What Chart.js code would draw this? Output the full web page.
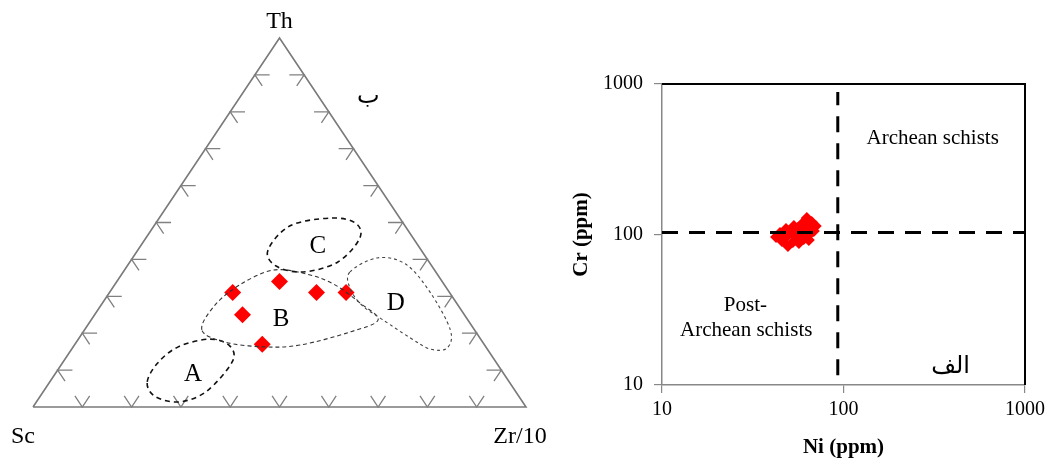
<!DOCTYPE html>
<html><head><meta charset="utf-8">
<script src="https://cdn.jsdelivr.net/npm/chart.js@4.4.0/dist/chart.umd.min.js"></script>
<style>
html,body{margin:0;padding:0;background:#fff;}
#wrap{position:relative;width:1050px;height:459px;background:#fff;}
#tern{position:absolute;left:0;top:0;}
#log{position:absolute;left:540px;top:0;}
</style></head><body>
<div id="wrap">
<canvas id="tern" width="560" height="459"></canvas>
<canvas id="log" width="510" height="459"></canvas>
</div>
<script>
// ===== Ternary Th - Sc - Zr/10 : sample compositions (%) =====
const thValues = [31, 34, 31, 31, 25, 17];
const scValues = [44, 33, 27, 21, 45, 45];
const zrValues = [25, 33, 42, 48, 30, 38];
const ternTicks = [10, 20, 30, 40, 50, 60, 70, 80, 90];
// vertices as [Th, Zr/10] (Sc = remainder)
const vertexNames = ['Sc', 'Zr/10', 'Th'];
const vertexComp = [[0, 0], [0, 100], [100, 0]];
// field outlines as [Th, Zr/10] % (Sc = remainder)
const fieldA = [[6.5,19.9],[2.7,23.6],[1.4,29.1],[4.3,33.1],[12.2,34.3],[16.5,31.7],[18.4,26.7],[16.3,21.3],[11.7,19.3]];
const fieldB = [[20.9,23.8],[27.6,23.1],[33.1,25.4],[37.1,30.1],[36.0,37.6],[33.1,44.7],[28.2,52.2],[23.6,58.2],[20.3,54.1],[16.8,45.8],[16.3,38.5],[17.6,30.1]];
const fieldC = [[42.5,26.4],[38.2,30.2],[36.6,36.5],[39.3,42.2],[45.8,43.4],[49.9,40.4],[51.2,34.8],[49.1,27.6]];
const fieldD = [[36.6,46.0],[40.4,49.6],[38.8,56.1],[31.2,64.9],[20.9,74.2],[16.0,76.0],[15.7,72.7],[18.7,67.2],[23.6,59.2],[27.6,52.9],[32.2,48.2]];
const fieldNames = ['A', 'B', 'C', 'D'];
const fieldLabelComp = [[8.9, 28.0], [23.6, 38.5], [43.4, 36.1], [28.2, 59.5]];
const ternPanelLabel = 'ب';
const ternPanelLabelComp = [84, 26];

// ===== Cr vs Ni (ppm) =====
const niValues = [42.5, 44.7, 45.8, 48.8, 49.4, 52.6, 48.2, 52.0, 54.7, 56.8, 56.1, 58.9, 60.4, 59.7, 62.8, 63.6, 65.2, 66.8, 70.3, 68.6, 64.4, 53.3];
const crValues = [96.2, 102.3, 90.5, 97.7, 83.9, 89.2, 108.8, 103.9, 96.2, 87.8, 110.5, 102.3, 93.3, 119.2, 128.7, 110.5, 100.8, 121.1, 113.9, 105.5, 91.9, 113.9];
const niBoundary = 93;
const crBoundary = 103;
const niLineCrRange = [11.6, 885];
const logTicks = [10, 100, 1000];
const logTexts = [
  {text: 'Archean schists', ni: 310, cr: 437},
  {text: 'Post-', ni: 28.8, cr: 33.5},
  {text: 'Archean schists', ni: 29.1, cr: 23.2}
];
const logPanelLabel = {text: 'الف', ni: 389, cr: 13.2};

const SERIF = '"Liberation Serif", "Times New Roman", serif';

// ---------- ternary ----------
function tx(th, zr) { return zr + th / 2; }
function tpx(chart, th, zr) {
  return [chart.scales.x.getPixelForValue(tx(th, zr)), chart.scales.y.getPixelForValue(th)];
}
function closedSpline(ctx, pts) {
  const n = pts.length;
  ctx.moveTo(pts[0][0], pts[0][1]);
  for (let i = 0; i < n; i++) {
    const p0 = pts[(i - 1 + n) % n], p1 = pts[i], p2 = pts[(i + 1) % n], p3 = pts[(i + 2) % n];
    ctx.bezierCurveTo(p1[0] + (p2[0] - p0[0]) / 6, p1[1] + (p2[1] - p0[1]) / 6,
                      p2[0] - (p3[0] - p1[0]) / 6, p2[1] - (p3[1] - p1[1]) / 6,
                      p2[0], p2[1]);
  }
  ctx.closePath();
}
const ternDecor = {
  id: 'ternDecor',
  afterDatasetsDraw(chart) {
    const ctx = chart.ctx;
    ctx.save();
    // tick stubs
    ctx.strokeStyle = '#808080';
    ctx.lineWidth = 1.3;
    const s = 3;
    ctx.beginPath();
    ternTicks.forEach(k => {
      let p, a, b;
      p = tpx(chart, 0, k); a = tpx(chart, s, k - s); b = tpx(chart, s, k);
      ctx.moveTo(a[0], a[1]); ctx.lineTo(p[0], p[1]); ctx.lineTo(b[0], b[1]);
      p = tpx(chart, k, 0); a = tpx(chart, k, s); b = tpx(chart, k - s, s);
      ctx.moveTo(a[0], a[1]); ctx.lineTo(p[0], p[1]); ctx.lineTo(b[0], b[1]);
      p = tpx(chart, k, 100 - k); a = tpx(chart, k, 100 - k - s); b = tpx(chart, k - s, 100 - k);
      ctx.moveTo(a[0], a[1]); ctx.lineTo(p[0], p[1]); ctx.lineTo(b[0], b[1]);
    });
    ctx.stroke();
    // fields
    const fields = [fieldA, fieldB, fieldC, fieldD];
    const styles = [
      {c: '#111', w: 1.6, d: [5, 4]},
      {c: '#333', w: 1.1, d: [4, 3]},
      {c: '#111', w: 1.6, d: [5, 4]},
      {c: '#444', w: 1.1, d: [3, 3]}
    ];
    fields.forEach((f, i) => {
      ctx.beginPath();
      ctx.strokeStyle = styles[i].c;
      ctx.lineWidth = styles[i].w;
      ctx.setLineDash(styles[i].d);
      closedSpline(ctx, f.map(q => tpx(chart, q[0], q[1])));
      ctx.stroke();
    });
    ctx.setLineDash([]);
    // labels
    ctx.fillStyle = '#000';
    ctx.textAlign = 'center';
    ctx.textBaseline = 'middle';
    ctx.font = '25px ' + SERIF;
    fieldNames.forEach((n, i) => {
      const p = tpx(chart, fieldLabelComp[i][0], fieldLabelComp[i][1]);
      ctx.fillText(n, p[0], p[1]);
    });
    ctx.font = '24px ' + SERIF;
    const offs = [[-10, 30], [-6, 30], [0, -16]];
    vertexNames.forEach((n, i) => {
      const p = tpx(chart, vertexComp[i][0], vertexComp[i][1]);
      ctx.fillText(n, p[0] + offs[i][0], p[1] + offs[i][1]);
    });
    ctx.font = '24px "DejaVu Sans", sans-serif';
    const pl = tpx(chart, ternPanelLabelComp[0], ternPanelLabelComp[1]);
    ctx.fillText(ternPanelLabel, pl[0], pl[1]);
    ctx.restore();
  }
};

new Chart(document.getElementById('tern'), {
  type: 'scatter',
  data: {
    datasets: [
      {
        data: thValues.map((t, i) => ({x: tx(t, zrValues[i]) * 100 / (t + scValues[i] + zrValues[i]), y: t * 100 / (t + scValues[i] + zrValues[i])})),
        pointStyle: 'rectRot', pointRadius: 8.5, backgroundColor: '#ff0000', borderWidth: 0, clip: false
      },
      {
        data: [0, 1, 2, 0].map(i => ({x: tx(vertexComp[i][0], vertexComp[i][1]), y: vertexComp[i][0]})),
        showLine: true, borderColor: '#7a7a7a', borderWidth: 1.6, pointRadius: 0, fill: false, clip: false
      }
    ]
  },
  options: {
    animation: false, responsive: false, devicePixelRatio: 1,
    layout: {padding: {left: 33, right: 34, top: 38, bottom: 52}},
    plugins: {legend: {display: false}, tooltip: {enabled: false}},
    scales: {
      x: {type: 'linear', min: 0, max: 100, display: false},
      y: {type: 'linear', min: 0, max: 100, display: false}
    }
  },
  plugins: [ternDecor]
});

// ---------- log-log ----------
const logDecor = {
  id: 'logDecor',
  afterDraw(chart) {
    const ctx = chart.ctx, a = chart.chartArea, xs = chart.scales.x, ys = chart.scales.y;
    ctx.save();
    ctx.strokeStyle = '#000';
    ctx.lineWidth = 2;
    ctx.beginPath();
    ctx.moveTo(a.left, a.top); ctx.lineTo(a.right, a.top); ctx.lineTo(a.right, a.bottom);
    ctx.stroke();
    ctx.fillStyle = '#000';
    ctx.textAlign = 'center';
    ctx.textBaseline = 'middle';
    ctx.font = '21px ' + SERIF;
    logTexts.forEach(t => ctx.fillText(t.text, xs.getPixelForValue(t.ni), ys.getPixelForValue(t.cr)));
    ctx.font = '24px "DejaVu Sans", sans-serif';
    ctx.fillText(logPanelLabel.text, xs.getPixelForValue(logPanelLabel.ni), ys.getPixelForValue(logPanelLabel.cr));
    ctx.restore();
  }
};

const tickFont = {family: SERIF, size: 20};
const titleFont = {family: SERIF, size: 21, weight: 'bold', lineHeight: 1.1};
new Chart(document.getElementById('log'), {
  type: 'scatter',
  data: {
    datasets: [
      {data: [{x: 10, y: crBoundary}, {x: 1000, y: crBoundary}], showLine: true, borderColor: '#000', borderWidth: 3, borderDash: [16, 11], pointRadius: 0, fill: false},
      {data: [{x: niBoundary, y: niLineCrRange[0]}, {x: niBoundary, y: niLineCrRange[1]}], showLine: true, borderColor: '#000', borderWidth: 3, borderDash: [16, 11], pointRadius: 0, fill: false},
      {data: niValues.map((v, i) => ({x: v, y: crValues[i]})), pointStyle: 'rectRot', pointRadius: 6, backgroundColor: '#ff0000', borderWidth: 0}
    ]
  },
  options: {
    animation: false, responsive: false, devicePixelRatio: 1,
    layout: {padding: {left: 0, right: 22, top: 84, bottom: 0}},
    plugins: {legend: {display: false}, tooltip: {enabled: false}},
    scales: {
      x: {
        type: 'logarithmic', min: 10, max: 1000,
        afterBuildTicks: s => { s.ticks = logTicks.map(v => ({value: v})); },
        afterFit: s => { s.height = 74; },
        ticks: {callback: v => String(v), font: tickFont, color: '#000', padding: 5, autoSkip: false, maxRotation: 0},
        grid: {drawOnChartArea: false, drawTicks: true, tickLength: 8, color: '#888', lineWidth: 1.2},
        border: {color: '#888', width: 1.5},
        title: {display: true, text: 'Ni (ppm)', font: titleFont, color: '#000', padding: {top: 0, bottom: 0}}
      },
      y: {
        type: 'logarithmic', min: 10, max: 1000,
        afterBuildTicks: s => { s.ticks = logTicks.map(v => ({value: v})); },
        afterFit: s => { s.width = 122; },
        ticks: {callback: v => String(v), font: tickFont, color: '#000', padding: 11, autoSkip: false},
        grid: {drawOnChartArea: false, drawTicks: true, tickLength: 8, color: '#888', lineWidth: 1.2},
        border: {color: '#888', width: 1.5},
        title: {display: true, text: 'Cr (ppm)', font: titleFont, color: '#000', padding: {top: 30, bottom: 0}}
      }
    }
  },
  plugins: [logDecor]
});
</script>
</body></html>
